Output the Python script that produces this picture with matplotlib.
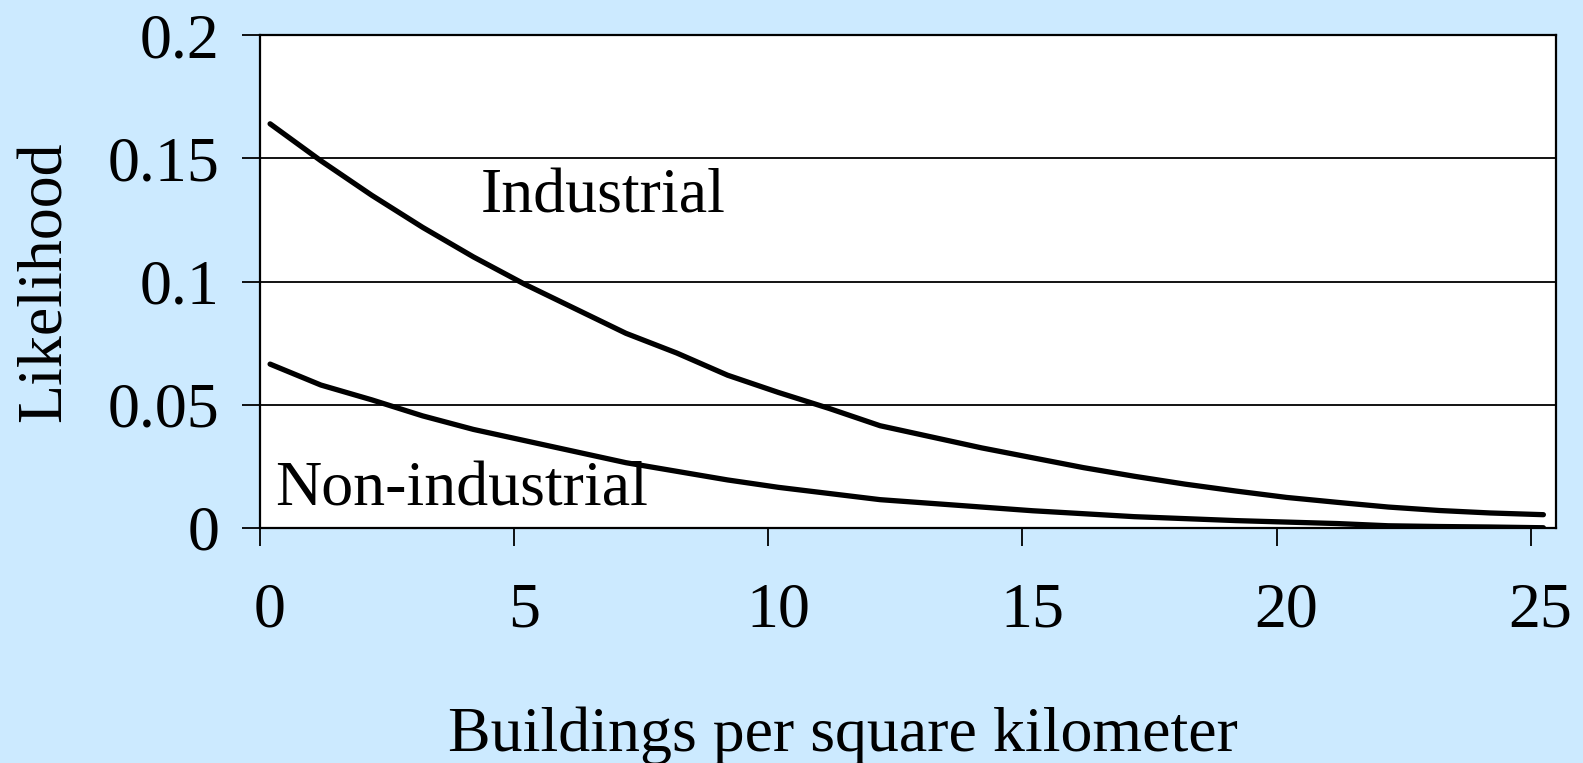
import matplotlib
matplotlib.use("Agg")
import matplotlib.pyplot as plt
from matplotlib.transforms import ScaledTranslation

# buildings per square km (sample points) and likelihood
density = [0.2, 1.2, 2.2, 3.2, 4.2, 5.2, 6.2, 7.2, 8.2, 9.2, 10.2, 11.2, 12.2,
           13.2, 14.2, 15.2, 16.2, 17.2, 18.2, 19.2, 20.2, 21.2, 22.2, 23.2, 24.2, 25.25]
industrial = [0.164, 0.149, 0.135, 0.122, 0.110, 0.099, 0.089, 0.079, 0.071, 0.062,
              0.055, 0.0485, 0.0415, 0.037, 0.0325, 0.0285, 0.0245, 0.021, 0.0178,
              0.015, 0.0124, 0.0104, 0.0085, 0.0071, 0.0061, 0.0054]
non_industrial = [0.0665, 0.058, 0.052, 0.0455, 0.040, 0.0355, 0.031, 0.0265, 0.023,
                  0.0195, 0.0165, 0.014, 0.0115, 0.010, 0.0085, 0.007, 0.0058, 0.0046,
                  0.0038, 0.003, 0.0024, 0.0018, 0.0009, 0.0006, 0.0004, 0.0001]
xticks = [0, 5, 10, 15, 20, 25]
yticks = [0, 0.05, 0.1, 0.15, 0.2]
ytick_labels = ["0", "0.05", "0.1", "0.15", "0.2"]

plt.rcParams["font.family"] = ["Liberation Serif", "DejaVu Serif"]
fs = 46

fig = plt.figure(figsize=(15.83, 7.63), dpi=100, facecolor="#cceaff")
ax = fig.add_axes([0.1642, 0.308, 0.8188, 0.646])
ax.set_facecolor("white")

ax.plot(density, industrial, color="black", lw=3.8, solid_capstyle="round")
ax.plot(density, non_industrial, color="black", lw=3.8, solid_capstyle="round")

ax.set_xlim(0, 25.5)
ax.set_ylim(0, 0.2)
ax.set_xticks(xticks)
ax.set_xticklabels([str(t) for t in xticks])
ax.set_yticks(yticks)
ax.set_yticklabels(ytick_labels)
ax.grid(axis="y", color="black", lw=1.3)
ax.set_axisbelow(True)
for s in ax.spines.values():
    s.set_linewidth(1.6)
    s.set_color("black")

ax.tick_params(axis="both", direction="out", length=13, width=1.3, labelsize=fs, color="black")
ax.tick_params(axis="x", pad=26)
ax.tick_params(axis="y", pad=16)
# excel puts the x labels a little right of the ticks
shift = ScaledTranslation(10 / 100, 0, fig.dpi_scale_trans)
for lab in ax.get_xticklabels():
    lab.set_transform(lab.get_transform() + shift)

ax.text(4.35, 0.128, "Industrial", fontsize=fs, ha="left", va="baseline")
ax.text(0.3, 0.0092, "Non-industrial", fontsize=fs, ha="left", va="baseline")

ax.set_ylabel("Likelihood", fontsize=fs, labelpad=24)
ax.set_xlabel("Buildings per square kilometer", fontsize=fs, labelpad=48)
ax.xaxis.label.set_x(0.45)

fig.savefig("out.png", dpi=100, facecolor=fig.get_facecolor())
